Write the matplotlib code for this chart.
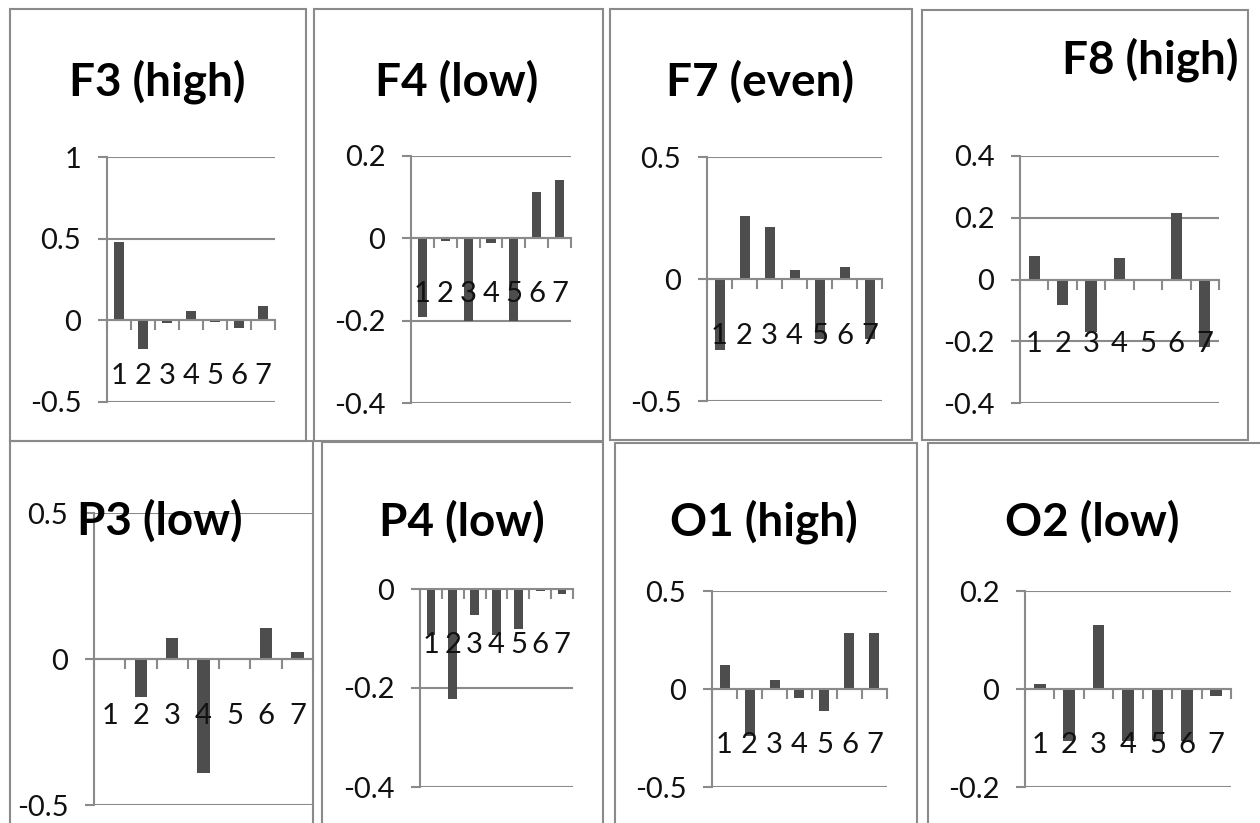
import numpy as np
import matplotlib
matplotlib.use('Agg')
import matplotlib.pyplot as plt
from matplotlib.patches import Rectangle

W, H = 1260, 823
plt.rcParams['font.family'] = ['Lato', 'DejaVu Sans']
plt.rcParams['axes.unicode_minus'] = False

GRAY = "#8a8a8a"
BAR = "#4d4d4d"

# --- data ---
categories = [1, 2, 3, 4, 5, 6, 7]
titles = ["F3 (high)", "F4 (low)", "F7 (even)", "F8 (high)",
          "P3 (low)", "P4 (low)", "O1 (high)", "O2 (low)"]
f3 = [0.48, -0.175, -0.015, 0.06, -0.01, -0.045, 0.085]
f4 = [-0.192, -0.006, -0.2, -0.012, -0.2, 0.112, 0.141]
f7 = [-0.29, 0.258, 0.213, 0.037, -0.245, 0.05, -0.245]
f8 = [0.077, -0.084, -0.17, 0.07, 0.0, 0.215, -0.22]
p3 = [0.0, -0.13, 0.072, -0.39, 0.0, 0.106, 0.024]
p4 = [-0.093, -0.222, -0.053, -0.093, -0.081, -0.005, -0.01]
o1 = [0.122, -0.24, 0.046, -0.046, -0.112, 0.286, 0.286]
o2 = [0.01, -0.106, 0.13, -0.106, -0.105, -0.106, -0.014]
series = [f3, f4, f7, f8, p3, p4, o1, o2]
y_ticks = [[-0.5, 0, 0.5, 1], [-0.4, -0.2, 0, 0.2], [-0.5, 0, 0.5], [-0.4, -0.2, 0, 0.2, 0.4],
           [-0.5, 0, 0.5], [-0.4, -0.2, 0], [-0.5, 0, 0.5], [-0.2, 0, 0.2]]

# --- layout (pixels) ---
# plot area: left, right, top, bottom
areas = [(107, 275, 157, 402), (411, 571, 156, 403), (707, 882, 157, 401), (1020, 1219, 156, 403),
         (94, 313, 513, 805), (420, 573, 589, 787), (712, 887, 591, 787), (1025, 1231, 591, 787)]
# panel frames: x0, y0, x1, y1
frames = [(10, 9, 306, 441), (314, 9, 603, 441), (610, 9, 912, 440), (922, 10, 1248, 440),
          (10, 441, 313, 830), (322, 442, 603, 830), (615, 443, 917, 830), (928, 443, 1270, 830)]
# title anchor: x, y, ha
title_pos = [(157, 82, "center"), (457, 82, "center"), (760, 82, "center"), (1238, 60, "right"),
             (160, 521, "center"), (462, 522, "center"), (764, 522, "center"), (1092, 522, "center")]
label_pad = [31, 31, 32, 37, 32, 31, 31, 31]

fig = plt.figure(figsize=(W / 100, H / 100), dpi=100)
fig.patch.set_facecolor("white")

for (x0, y0, x1, y1) in frames:
    fig.add_artist(Rectangle((x0 / W, 1 - y1 / H), (x1 - x0) / W, (y1 - y0) / H,
                             transform=fig.transFigure, fill=False, edgecolor=GRAY, linewidth=1.5))

for i, vals in enumerate(series):
    l, r, t, b = areas[i]
    ax = fig.add_axes([l / W, 1 - b / H, (r - l) / W, (b - t) / H])
    ax.set_facecolor("none")
    ax.set_axisbelow(False)  # tick labels drawn over the bars, like Excel
    for v in y_ticks[i]:
        ax.axhline(v, color=GRAY, linewidth=1.5, zorder=1)
    ax.bar(categories, vals, width=0.4, color=BAR, zorder=2)
    ax.set_xlim(0.5, 7.5)
    ax.set_ylim(y_ticks[i][0], y_ticks[i][-1])
    ax.set_yticks(y_ticks[i])
    ax.set_yticklabels([f"{v:g}" for v in y_ticks[i]])
    ax.set_xticks(categories)
    ax.set_xticklabels([str(c) for c in categories])
    ax.set_xticks(np.arange(0.5, 8, 1), minor=True)
    ax.tick_params(axis="x", which="major", length=0, pad=label_pad[i], labelsize=21, labelcolor="#111111")
    ax.tick_params(axis="x", which="minor", length=7, width=1.5, color=GRAY, direction="out")
    ax.tick_params(axis="y", length=6.5, width=1.5, color=GRAY, direction="out", pad=12,
                   labelsize=21, labelcolor="#111111")
    for s in ["top", "right"]:
        ax.spines[s].set_visible(False)
    ax.spines["bottom"].set_position(("data", 0))
    ax.spines["bottom"].set_color(GRAY)
    ax.spines["bottom"].set_linewidth(1.5)
    ax.spines["left"].set_color(GRAY)
    ax.spines["left"].set_linewidth(1.5)

    tx, ty, ha = title_pos[i]
    fig.text(tx / W, 1 - ty / H, titles[i], ha=ha, va="center", fontsize=33,
             fontweight="bold", color="black", zorder=5)

fig.savefig("out.png", dpi=100)
